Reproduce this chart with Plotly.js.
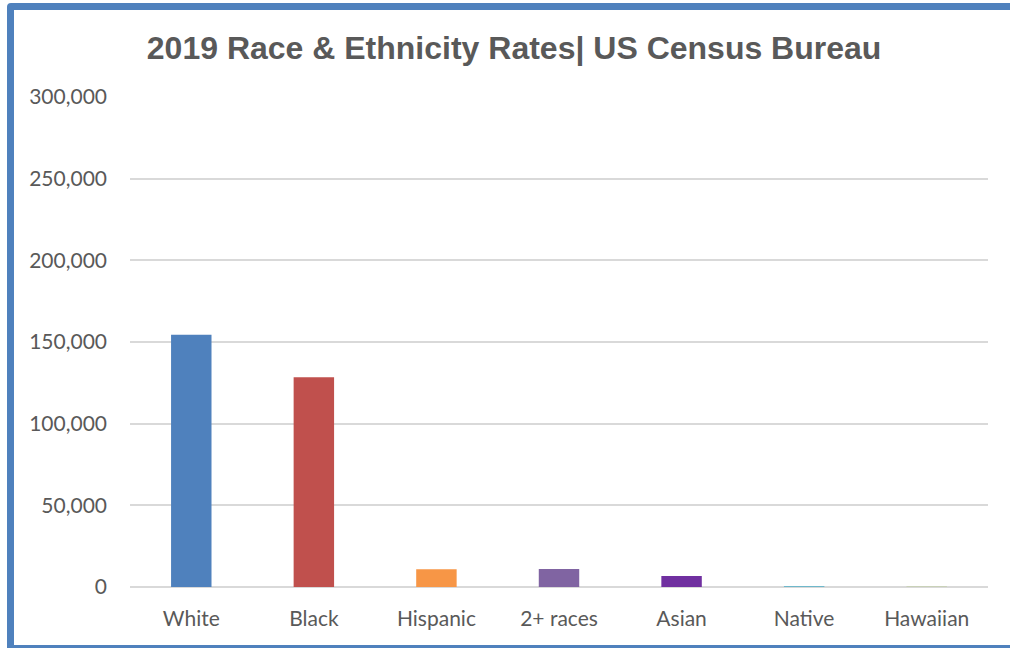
<!DOCTYPE html>
<html><head><meta charset="utf-8">
<script src="https://cdn.plot.ly/plotly-3.0.1.min.js"></script>
<style>
html,body{margin:0;padding:0;background:#fff;}
#wrap{position:relative;width:1010px;height:648px;overflow:hidden;}
#chart{position:absolute;left:0;top:0;width:1010px;height:648px;}
#frame{position:absolute;left:7px;top:3px;width:1020px;height:635px;border:7px solid #4F81BD;border-radius:4px;pointer-events:none;}
</style></head>
<body>
<div id="wrap"><div id="chart"></div><div id="frame"></div></div>
<script>
const categories = ["White","Black","Hispanic","2+ races","Asian","Native","Hawaiian"];
const values = [154500, 128400, 10900, 11000, 6700, 400, 100];
const barColors = ["#4F81BD","#C0504D","#F79646","#8064A2","#7030A0","#4BACC6","#9BBB59"];
const yTicks = [0,50000,100000,150000,200000,250000,300000];
const yTickText = ["0","50,000","100,000","150,000","200,000","250,000","300,000"];

Plotly.newPlot("chart", [{
  type: "bar",
  x: categories,
  y: values,
  marker: {color: barColors},
  hoverinfo: "x+y"
}], {
  width: 1010, height: 648,
  paper_bgcolor: "#fff", plot_bgcolor: "#fff",
  margin: {l: 130, r: 22, t: 97, b: 61},
  bargap: 0.67,
  showlegend: false,
  title: {text: "<b>2019 Race & Ethnicity Rates| US Census Bureau</b>",
          font: {family: "Liberation Sans, Arial, sans-serif", size: 32, color: "#595959"},
          x: 0.509, xanchor: "center", y: 0.927, yanchor: "middle"},
  xaxis: {tickfont: {family: "Lato, sans-serif", size: 21, color: "#595959"},
          showgrid: false, ticks: "", ticklabelstandoff: 17, showline: false, zeroline: false},
  yaxis: {range: [0, 300000], tickvals: yTicks, ticktext: yTickText,
          tickfont: {family: "Lato, sans-serif", size: 21, color: "#595959"},
          showgrid: true, gridcolor: "#D9D9D9", gridwidth: 2,
          zeroline: true, zerolinecolor: "#D9D9D9", zerolinewidth: 2,
          ticks: "", ticklabelstandoff: 22, showline: false}
}, {displayModeBar: false, staticPlot: true});
</script>
</body></html>
